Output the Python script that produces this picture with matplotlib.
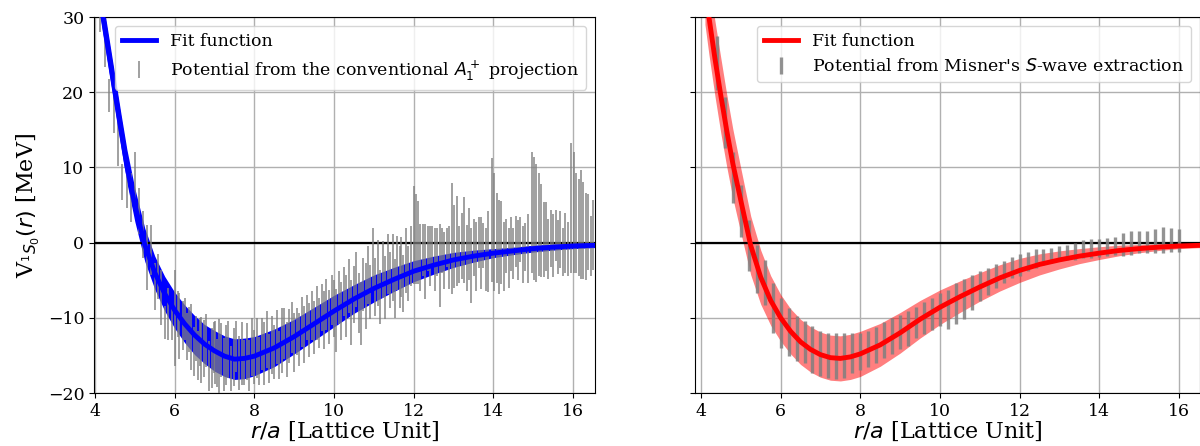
import numpy as np
import matplotlib
matplotlib.use("Agg")
import matplotlib.pyplot as plt

plt.rcParams['font.family'] = 'DejaVu Serif'
plt.rcParams['mathtext.fontset'] = 'dejavusans'

# fit curves
fit_r = [4.1, 4.2, 4.35, 4.5, 4.65, 4.8, 5.0, 5.25, 5.5, 5.75, 6.0, 6.25, 6.5, 6.75,
         7.0, 7.25, 7.5, 7.75, 8.0, 8.5, 9.0, 9.5, 10.0, 10.5, 11.0, 11.5, 12.0, 12.5,
         13.0, 13.5, 14.0, 14.5, 15.0, 15.5, 16.0, 16.6]
fit_left = [33.5, 30.0, 25.0, 20.0, 15.0, 10.2, 5.0, -0.3, -4.0, -6.8, -9.0, -10.8, -12.3, -13.5,
            -14.4, -15.1, -15.5, -15.4, -15.1, -14.0, -12.5, -10.8, -9.1, -7.5, -6.1, -4.9, -3.8, -3.0,
            -2.3, -1.8, -1.4, -1.1, -0.8, -0.6, -0.45, -0.35]
band_left = [2.2, 2.2, 2.2, 2.2, 2.2, 2.2, 2.2, 2.2, 2.2, 2.3, 2.4, 2.5, 2.6, 2.6,
             2.7, 2.7, 2.7, 2.7, 2.6, 2.5, 2.3, 2.2, 2.1, 1.9, 1.8, 1.6, 1.4, 1.2,
             1.0, 0.8, 0.6, 0.5, 0.45, 0.4, 0.35, 0.3]
fit_right = [34.0, 30.0, 24.5, 19.5, 14.8, 10.5, 5.6, -0.4, -4.6, -7.7, -10.0, -11.8, -13.2, -14.2,
             -14.9, -15.3, -15.4, -15.2, -14.8, -13.6, -12.0, -10.2, -8.6, -7.2, -5.9, -4.7, -3.7, -2.9,
             -2.3, -1.8, -1.4, -1.05, -0.8, -0.6, -0.45, -0.35]
band_right = [5.0, 5.0, 5.0, 5.0, 4.8, 4.6, 4.3, 3.9, 3.6, 3.3, 3.1, 3.0, 3.0, 3.0,
              3.0, 3.0, 3.0, 3.0, 3.0, 2.85, 2.7, 2.5, 2.3, 2.1, 1.9, 1.75, 1.6, 1.4,
              1.2, 1.0, 0.85, 0.7, 0.55, 0.45, 0.35, 0.3]

# conventional A1+ projection data
r_conv = [4.12, 4.24, 4.36, 4.47, 4.58, 4.69, 4.80, 4.90, 5.00, 5.10, 5.20, 5.31, 5.41, 5.50, 5.58, 5.66, 5.76, 5.84, 5.93,
          6.02, 6.09, 6.12, 6.20, 6.26, 6.31, 6.37, 6.41, 6.48, 6.53, 6.58, 6.63, 6.66, 6.74, 6.79, 6.85, 6.93, 6.98,
          7.02, 7.07, 7.10, 7.17, 7.23, 7.28, 7.35, 7.41, 7.48, 7.54, 7.61, 7.68, 7.75, 7.81, 7.87, 7.94,
          8.00, 8.06, 8.12, 8.19, 8.25, 8.31, 8.37, 8.44, 8.50, 8.56, 8.62, 8.69, 8.75, 8.81, 8.87, 8.94,
          9.00, 9.06, 9.12, 9.19, 9.25, 9.31, 9.37, 9.44, 9.50, 9.56, 9.62, 9.69, 9.75, 9.81, 9.87, 9.94,
          10.00, 10.06, 10.12, 10.18, 10.25, 10.31, 10.37, 10.43, 10.50, 10.56, 10.62, 10.67, 10.73, 10.79, 10.85, 10.91,
          10.98, 11.04, 11.10, 11.16, 11.22, 11.29, 11.35, 11.41, 11.47, 11.53, 11.59, 11.65, 11.68, 11.74, 11.80, 11.86, 11.92,
          12.00, 12.05, 12.11, 12.17, 12.23, 12.29, 12.35, 12.41, 12.47, 12.53, 12.59, 12.65, 12.71, 12.77, 12.83, 12.89,
          12.96, 13.02, 13.08, 13.14, 13.20, 13.27, 13.33, 13.39, 13.45, 13.51, 13.57, 13.63, 13.69, 13.75, 13.81, 13.87,
          13.96, 14.02, 14.08, 14.14, 14.20, 14.26, 14.32, 14.38, 14.44, 14.50, 14.56, 14.62, 14.68, 14.74, 14.80, 14.86,
          14.96, 15.02, 15.08, 15.14, 15.20, 15.26, 15.32, 15.38, 15.44, 15.50, 15.56, 15.62, 15.68, 15.74, 15.80, 15.86,
          15.96, 16.02, 16.08, 16.14, 16.20, 16.26, 16.32, 16.38, 16.44, 16.49]
v_conv = [31.0, 25.8, 19.6, 17.0, 13.2, 8.0, 7.6, 6.0, 8.8, 4.2, 1.1, -2.0, -1.0, -5.8, -4.5, -7.3, -10.6, -9.5, -10.7,
          -10.0, -9.5, -11.1, -11.0, -10.2, -12.5, -11.6, -12.6, -14.5, -12.8, -15.0, -13.2, -14.3, -14.1, -13.0, -16.4, -15.4, -14.0,
          -14.6, -16.0, -15.1, -14.3, -16.2, -15.0, -14.2, -16.8, -15.2, -13.8, -16.0, -14.8, -15.9, -14.5, -16.3, -13.9,
          -15.2, -14.0, -15.8, -13.5, -14.8, -12.9, -15.4, -13.6, -14.5, -12.6, -14.9, -13.0, -12.1, -14.2, -12.4, -11.3,
          -13.3, -11.8, -12.9, -10.6, -12.2, -10.0, -11.6, -9.7, -11.3, -9.4, -10.7, -8.6, -10.3, -8.2, -9.9, -7.6,
          -8.8, -10.4, -7.3, -9.1, -6.5, -8.4, -5.8, -9.3, -6.9, -4.9, -8.0, -9.4, -5.6, -7.1, -4.3, -6.6,
          -2.2, -5.9, -4.0, -7.2, -3.6, -6.0, -2.9, -5.0, -3.3, -6.1, -2.7, -4.6, -3.2, -5.4, -2.4, -4.1, -1.8,
          1.0, 0.5, 0.0, -2.0, -1.0, -2.5, -0.8, -1.8, -0.3, -2.2, -1.2, -3.0, -1.0, -2.4, -0.6, -2.0,
          0.5, -0.5, 0.2, -1.6, -0.4, 0.3, -2.0, -0.2, -3.0, -0.6, -1.8, 0.0, -1.4, -0.4, -2.2, -1.2,
          3.0, 1.4, 0.6, -0.6, 0.0, -1.8, -0.5, -2.0, -0.2, -1.4, 0.2, -1.0, 0.4, -1.6, -0.6, -0.8,
          4.0, 3.2, 2.6, 2.4, 1.6, 0.4, 0.8, -0.8, 0.6, -0.4, 1.0, -0.6, 0.4, -1.2, 0.0, -0.8,
          4.6, 4.0, 2.6, 2.0, 2.4, 1.6, 0.8, 1.4, -0.4, 1.0]
err_conv = [3.0, 2.4, 2.2, 2.4, 3.0, 2.4, 3.0, 3.2, 3.2, 3.1, 3.1, 4.3, 3.3, 3.1, 3.0, 3.7, 2.2, 3.5, 2.2,
            6.4, 3.0, 4.4, 3.3, 2.8, 3.1, 3.0, 4.4, 3.3, 3.0, 3.3, 3.2, 4.4, 3.8, 3.5, 3.3, 4.0, 3.4,
            4.2, 3.2, 4.9, 3.6, 3.5, 4.0, 3.8, 3.0, 3.9, 3.4, 3.6, 4.2, 3.0, 3.8, 3.4, 3.9,
            3.6, 4.0, 3.2, 3.5, 4.2, 3.8, 3.3, 3.9, 3.6, 3.6, 3.2, 4.3, 3.4, 3.7, 3.6, 3.4,
            3.9, 3.1, 3.5, 3.3, 3.8, 3.0, 3.6, 3.2, 3.5, 3.6, 3.3, 3.1, 3.8, 3.4, 3.6, 3.3,
            3.8, 4.2, 3.5, 3.9, 3.3, 4.1, 3.6, 4.3, 3.8, 3.6, 4.0, 4.2, 3.5, 4.4, 3.8, 3.6,
            4.2, 3.9, 4.4, 3.6, 3.8, 4.2, 4.0, 3.7, 4.4, 3.9, 3.6, 4.1, 4.0, 3.8, 4.3, 3.6, 4.0,
            6.5, 6.0, 5.5, 4.5, 3.5, 5.0, 3.0, 4.0, 2.5, 4.2, 3.2, 5.5, 3.0, 3.8, 2.6, 4.2,
            7.4, 5.5, 6.0, 3.8, 4.4, 5.7, 4.4, 4.8, 5.0, 3.8, 4.6, 3.4, 4.8, 3.0, 4.2, 5.4,
            8.2, 7.8, 6.0, 6.2, 5.5, 4.6, 3.6, 4.0, 3.6, 3.4, 3.4, 4.0, 3.0, 3.8, 3.2, 4.6,
            8.1, 8.2, 7.8, 6.8, 6.2, 5.0, 4.6, 4.0, 3.8, 4.2, 3.4, 3.6, 3.8, 3.2, 4.0, 3.6,
            8.6, 8.1, 6.6, 6.4, 7.2, 6.4, 5.8, 5.0, 4.0, 4.6]

# Misner S-wave data
r_misner = [4.4, 4.6, 4.8, 5.0, 5.2, 5.4, 5.6, 5.8, 6.0, 6.2, 6.4, 6.6, 6.8, 7.0, 7.2, 7.4, 7.6, 7.8,
            8.0, 8.2, 8.4, 8.6, 8.8, 9.0, 9.2, 9.4, 9.6, 9.8, 10.0, 10.2, 10.4, 10.6, 10.8, 11.0,
            11.2, 11.4, 11.6, 11.8, 12.0, 12.2, 12.4, 12.6, 12.8, 13.0, 13.2, 13.4, 13.6, 13.8, 14.0,
            14.2, 14.4, 14.6, 14.8, 15.0, 15.2, 15.4, 15.6, 15.8, 16.0]
v_misner = [23.9, 16.0, 8.7, 4.2, -0.4, -3.5, -5.3, -8.7, -10.7, -11.9, -12.8, -13.2, -14.2, -14.8, -15.0, -15.1, -15.0, -14.7,
            -14.5, -14.1, -13.6, -13.0, -12.4, -11.9, -11.4, -10.6, -10.0, -9.5, -8.9, -8.9, -8.1, -7.5, -6.6, -5.8,
            -5.2, -4.4, -3.9, -3.3, -3.0, -2.55, -2.15, -1.95, -1.7, -1.4, -1.3, -1.2, -0.9, -0.75, -0.7,
            -0.6, -0.4, -0.25, -0.05, 0.05, 0.1, 0.2, 0.35, 0.4, 0.3]
err_misner = [3.6, 3.4, 3.4, 3.4, 3.4, 3.2, 3.0, 3.3, 3.3, 3.2, 3.0, 2.8, 3.1, 3.0, 3.0, 3.1, 3.0, 2.7,
              2.5, 2.4, 2.4, 2.4, 2.4, 2.3, 2.3, 2.1, 2.1, 2.1, 2.2, 2.6, 2.7, 2.6, 2.3, 2.0,
              1.8, 1.6, 1.5, 1.4, 1.45, 1.25, 1.25, 1.05, 1.0, 0.9, 1.0, 1.15, 1.2, 1.25, 1.2,
              1.2, 1.2, 1.55, 1.55, 1.45, 1.5, 1.6, 1.75, 1.6, 1.5]

fig = plt.figure(figsize=(12, 4.46), dpi=100)
ax1 = fig.add_axes([94/1200, 53/446, 501/1200, 376/446])
ax2 = fig.add_axes([695/1200, 53/446, 505/1200, 376/446])

fr = np.array(fit_r)

# left panel
fl, bl = np.array(fit_left), np.array(band_left)
ax1.fill_between(fr, fl - bl, fl + bl, color='blue', lw=0, zorder=2)
ax1.errorbar(r_conv, v_conv, yerr=err_conv, fmt='none', ecolor='grey', elinewidth=1.4,
             alpha=0.75, zorder=3, label=r'Potential from the conventional $A_1^+$ projection')
ax1.plot(fr, fl, color='blue', lw=3.5, zorder=4, label='Fit function')
ax1.set_xlim(3.975, 16.55)

# right panel
frr, brr = np.array(fit_right), np.array(band_right)
ax2.fill_between(fr, frr - brr, frr + brr, color='red', alpha=0.5, lw=0, zorder=2)
ax2.errorbar(r_misner, v_misner, yerr=err_misner, fmt='none', ecolor='grey', elinewidth=2.4,
             alpha=0.85, zorder=3, label=r"Potential from Misner's $S$-wave extraction")
ax2.plot(fr, frr, color='red', lw=3.5, zorder=4, label='Fit function')
ax2.set_xlim(3.85, 16.53)
ax2.tick_params(labelleft=False)

for ax in (ax1, ax2):
    ax.set_ylim(-20, 30)
    ax.set_yticks([-20, -10, 0, 10, 20, 30])
    ax.set_xticks([4, 6, 8, 10, 12, 14, 16])
    ax.grid(True, color='#b0b0b0', lw=1)
    ax.axhline(0, color='black', lw=1.6, zorder=2.5)
    ax.tick_params(labelsize=12.5)
    ax.set_xlabel(r'$r/a$ [Lattice Unit]', fontsize=16, labelpad=0)
    ax.legend(loc='upper right', fontsize=12.5)

ax1.set_ylabel(r'V$_{^1S_0}(r)$ [MeV]', fontsize=16)

fig.savefig('out.png', dpi=100)
